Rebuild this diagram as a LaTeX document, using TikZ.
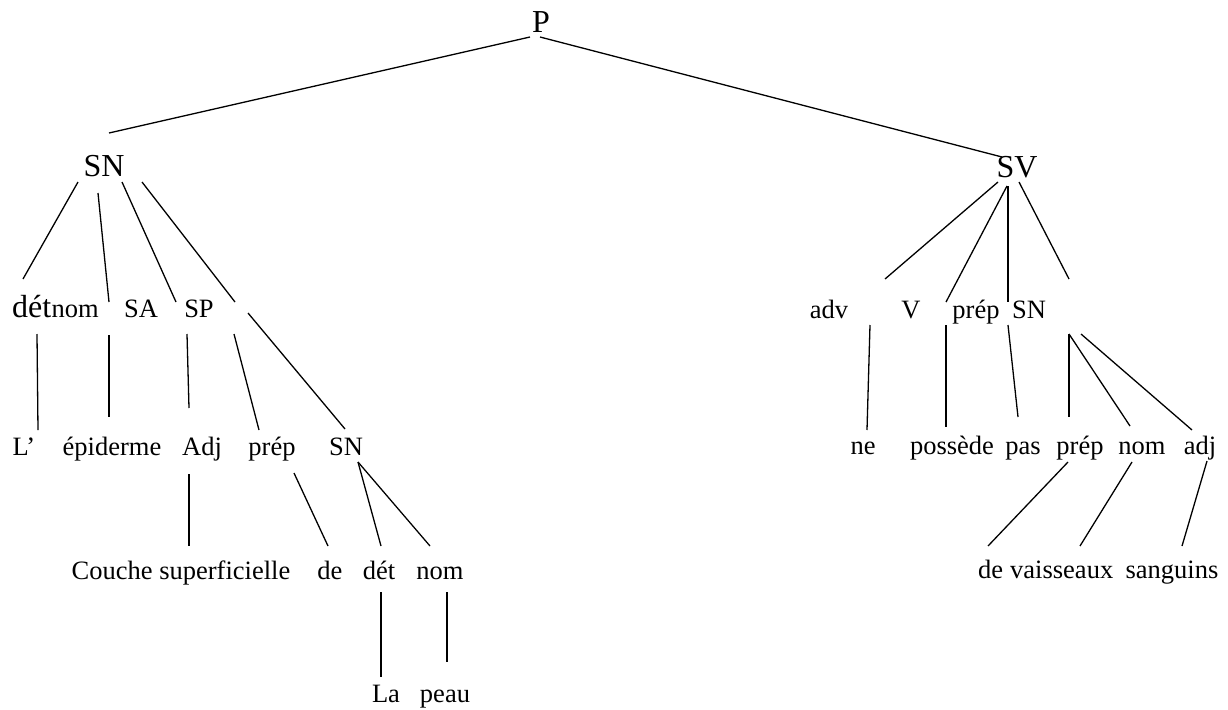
\documentclass[tikz,border=0pt]{standalone}
\usepackage{fontspec}
\setmainfont{Liberation Serif}
\begin{document}
\begin{tikzpicture}[x=1pt,y=-1pt,
  big/.style={inner sep=0pt,anchor=base,font=\fontsize{32}{38}\selectfont},
  sm/.style={inner sep=0pt,anchor=base,font=\fontsize{26.5}{32}\selectfont},
  br/.style={line width=1.3pt,black}]
\useasboundingbox (0,0) rectangle (1228,709);
% level 0-1
\node[big] (P) at (541,33) {P};
\node[big] (SN1) at (104,176) {SN};
\node[big] (SV) at (1017,177) {SV};
% level 2 left
\node[big,anchor=base west] (det1) at (12,317) {dét};
\node[sm,anchor=base west] (nom1) at (det1.base east) {nom};
\node[sm] (SA) at (141,317) {SA};
\node[sm] (SP) at (199,317) {SP};
% level 2 right
\node[sm] (adv) at (829,318) {adv};
\node[sm] (V) at (911,318) {V};
\node[sm] (prep1) at (976,318) {prép};
\node[sm] (SN2) at (1029,318) {SN};
% level 3 left
\node[sm] (L) at (24,455) {L’};
\node[sm] (epi) at (112,455) {épiderme};
\node[sm] (Adj) at (202,455) {Adj};
\node[sm] (prep2) at (272,455) {prép};
\node[sm] (SN3) at (346,455) {SN};
% level 3 right
\node[sm] (ne) at (863,454) {ne};
\node[sm] (poss) at (952,454) {possède};
\node[sm] (pas) at (1023,454) {pas};
\node[sm] (prep3) at (1080,454) {prép};
\node[sm] (nom3) at (1142,454) {nom};
\node[sm] (adj) at (1200,454) {adj};
% level 4
\node[sm] (couche) at (181,579) {Couche superficielle};
\node[sm] (de1) at (330,579) {de};
\node[sm] (det2) at (379,579) {dét};
\node[sm] (nom2) at (440,579) {nom};
\node[sm,anchor=base west] (de2) at (978,578) {de};
\node[sm,anchor=base west] (vais) at ([xshift=6.6pt]de2.base east) {vaisseaux};
\node[sm] (sang) at (1172,578) {sanguins};
% level 5
\node[sm] (La) at (386,702) {La};
\node[sm] (peau) at (445,702) {peau};
% connector end points
\foreach \n/\x/\y in {
  PSNa/530/37, PSNb/109/133, PSVa/540/37, PSVb/1002/157,
  a1/78/182, b1/23/279, a2/98/193, b2/109/302, a3/122/182, b3/176/302, a4/142/182, b4/235/302,
  a5/37/334, b5/38/430, a6/109/335, b6/109/417, a7/187/334, b7/189/408, a8/234/334, b8/259/430,
  a9/248/313, b9/345/429, a10/189/474, b10/189/546, a11/294/473, b11/328/546,
  a12/358/462, b12/381/546, b13/430/546, a14/381/592, b14/381/677, a15/447/592, b15/447/662,
  r1/998/182, s1/885/279, r2/1007/186, s2/946/302, r3/1008/186, s3/1008/302, r4/1019/182, s4/1069/279,
  r5/870/325, s5/867/430, r6/946/325, s6/946/427, r7/1008/325, s7/1018/417,
  r8/1069/334, s8/1069/417, s9/1130/426, r10/1081/334, s10/1192/430,
  r11/1068/462, s11/988/546, r12/1132/462, s12/1080/546, r13/1207/461, s13/1182/546}
  {\coordinate (\n) at (\x,\y);}
\draw[br] (PSNa) -- (PSNb);
\draw[br] (PSVa) -- (PSVb);
\draw[br] (a1) -- (b1);
\draw[br] (a2) -- (b2);
\draw[br] (a3) -- (b3);
\draw[br] (a4) -- (b4);
\draw[br] (a5) -- (b5);
\draw[br] (a6) -- (b6);
\draw[br] (a7) -- (b7);
\draw[br] (a8) -- (b8);
\draw[br] (a9) -- (b9);
\draw[br] (a10) -- (b10);
\draw[br] (a11) -- (b11);
\draw[br] (a12) -- (b12);
\draw[br] (a12) -- (b13);
\draw[br] (a14) -- (b14);
\draw[br] (a15) -- (b15);
\draw[br] (r1) -- (s1);
\draw[br] (r2) -- (s2);
\draw[br] (r3) -- (s3);
\draw[br] (r4) -- (s4);
\draw[br] (r5) -- (s5);
\draw[br] (r6) -- (s6);
\draw[br] (r7) -- (s7);
\draw[br] (r8) -- (s8);
\draw[br] (r8) -- (s9);
\draw[br] (r10) -- (s10);
\draw[br] (r11) -- (s11);
\draw[br] (r12) -- (s12);
\draw[br] (r13) -- (s13);
\end{tikzpicture}
\end{document}
